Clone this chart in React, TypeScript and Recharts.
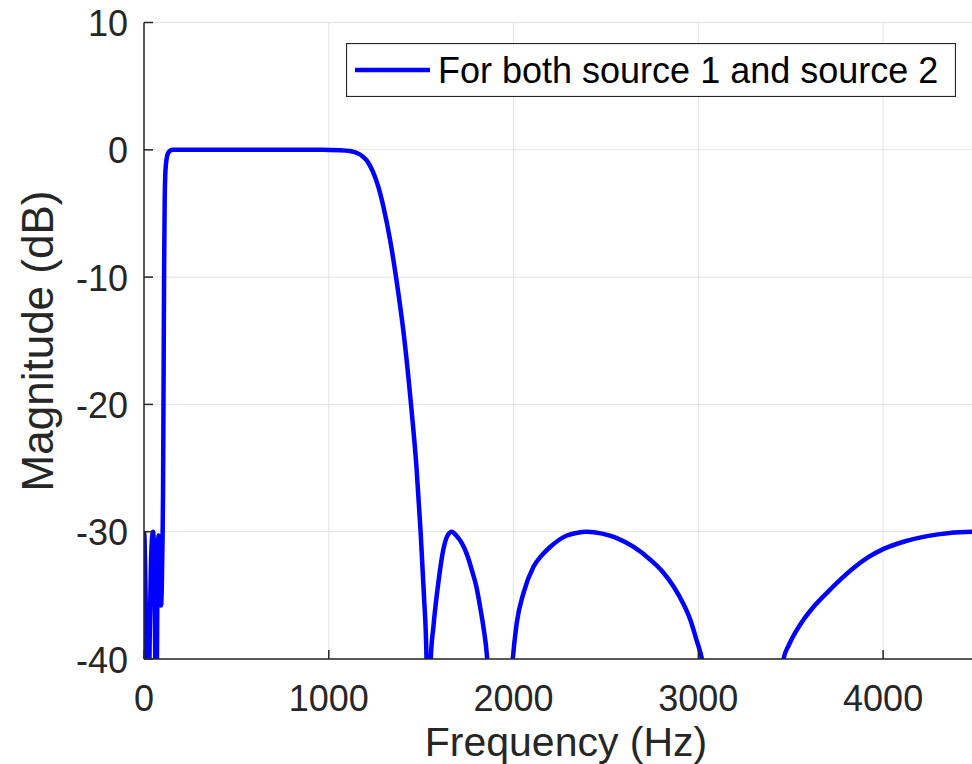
import { LineChart, Line, XAxis, YAxis, CartesianGrid, Legend } from "recharts";

// Band-pass magnitude response, shared by both sources
const FREQ_HZ = [
  0, 3, 6, 9, 12, 16, 20, 24, 28, 32, 37, 43, 49, 54, 58, 61, 64, 66, 68, 70,
  73, 76, 79, 83, 87, 92, 96, 100, 103, 106, 109, 112, 115, 119, 125, 133, 143, 155,
  200, 300, 500, 700, 900, 1000, 1060, 1115, 1160, 1180, 1206, 1225, 1241, 1270, 1296, 1332,
  1364, 1410, 1445, 1475, 1497, 1515, 1529, 1534, 1540, 1546, 1552,
  1566, 1593, 1620, 1643, 1666, 1690, 1720, 1748, 1774, 1800, 1819, 1838, 1855,
  1875, 1925, 1975, 1996, 2017, 2054, 2108, 2150, 2198, 2289, 2340, 2397, 2480,
  2559, 2650, 2740, 2810, 2866, 2920, 2956, 2990, 3019, 3060, 3240, 3420, 3461,
  3490, 3530, 3570, 3630, 3696, 3770, 3840, 3920, 4003, 4120, 4238, 4360, 4500,
];
const MAG_DB = [
  -30, -30.6, -32.5, -35.5, -40, -50, -60, -50, -42, -37, -33, -30.6, -30, -31.5, -36, -40, -50, -60, -50, -40,
  -34, -31, -30.3, -31.5, -34, -35.8, -34.5, -31, -27, -18, -9, -4, -2, -1.1, -0.5, -0.2, -0.05, 0,
  0, 0, 0, 0, 0, -0.01, -0.03, -0.1, -0.3, -0.48, -0.85, -1.3, -1.8, -3, -4.5, -7.1,
  -10, -15, -20, -25, -30, -35, -40, -55, -70, -52, -40,
  -37.5, -34, -31.4, -30.3, -30, -30.3, -30.9, -31.8, -33, -34.4, -35.9, -37.6, -39.6,
  -45, -70, -45, -40, -37.2, -34.8, -32.75, -31.9, -31.2, -30.3, -30.1, -30, -30.15,
  -30.5, -31.2, -32.2, -33.2, -34.3, -35.7, -36.9, -38.5, -40, -45, -70, -45, -40,
  -38.9, -37.8, -36.9, -35.8, -34.8, -33.75, -32.85, -32, -31.35, -30.75, -30.35, -30.1, -30,
];

const X_TICKS = [0, 1000, 2000, 3000, 4000];
const Y_TICKS = [-40, -30, -20, -10, 0, 10];
const SERIES_NAME = "For both source 1 and source 2";
const X_LABEL = "Frequency (Hz)";
const Y_LABEL = "Magnitude (dB)";

const data = FREQ_HZ.map((f, i) => ({ f, mag: MAG_DB[i] }));

const FONT = "'Liberation Sans', Arial, Helvetica, sans-serif";
const INK = "#262626";
const BLUE = "#0000ff";

const BottomTick = (props: any) => {
  const { x, y, payload } = props;
  return (
    <g>
      <line x1={x} x2={x} y1={y} y2={y - 9} stroke={INK} strokeWidth={1.5} />
      <text x={x} y={y + 52} textAnchor="middle" fontSize={36} fontFamily={FONT} fill={INK}>
        {payload.value}
      </text>
    </g>
  );
};

const TopTick = (props: any) => {
  const { x, y } = props;
  return <line x1={x} x2={x} y1={y} y2={y + 9} stroke={INK} strokeWidth={1.5} />;
};

const LeftTick = (props: any) => {
  const { x, y, payload } = props;
  return (
    <g>
      <line x1={x} x2={x + 9} y1={y} y2={y} stroke={INK} strokeWidth={1.5} />
      <text x={x - 16} y={y + 13.5} textAnchor="end" fontSize={36} fontFamily={FONT} fill={INK}>
        {payload.value}
      </text>
    </g>
  );
};

const XLabel = () => (
  <text x={566} y={756} textAnchor="middle" fontSize={41} fontFamily={FONT} fill={INK}>
    {X_LABEL}
  </text>
);

const YLabel = () => (
  <text
    x={0}
    y={0}
    transform="translate(53, 341) rotate(-90)"
    textAnchor="middle"
    fontSize={44}
    fontFamily={FONT}
    fill={INK}
  >
    {Y_LABEL}
  </text>
);

const LegendBox = () => (
  <svg width={610} height={54} style={{ display: "block" }}>
    <rect x={0.5} y={0.5} width={609} height={53} fill="#ffffff" stroke={INK} strokeWidth={1.2} />
    <line x1={9} x2={84} y1={27} y2={27} stroke={BLUE} strokeWidth={4.5} />
    <text x={92} y={40} fontSize={36} fontFamily={FONT} fill="#000000">
      {SERIES_NAME}
    </text>
  </svg>
);

export default function App() {
  return (
    <div
      style={{
        position: "absolute",
        left: 0,
        top: 0,
        width: 972,
        height: 764,
        overflow: "hidden",
        background: "#ffffff",
      }}
    >
      <LineChart
        width={980}
        height={764}
        data={data}
        margin={{ top: 22.5, right: 4.5, bottom: 0, left: 0 }}
      >
        <CartesianGrid stroke="#e3e3e3" strokeWidth={1} />
        <XAxis
          dataKey="f"
          type="number"
          domain={[0, 4500]}
          ticks={X_TICKS}
          allowDataOverflow
          height={105}
          tickSize={0}
          tickMargin={0}
          tickLine={false}
          axisLine={{ stroke: INK, strokeWidth: 1.5 }}
          tick={<BottomTick />}
          label={<XLabel />}
        />
        <XAxis
          xAxisId="top"
          orientation="top"
          dataKey="f"
          type="number"
          domain={[0, 4500]}
          ticks={X_TICKS}
          allowDataOverflow
          height={0}
          tickSize={0}
          tickMargin={0}
          tickLine={false}
          axisLine={{ stroke: INK, strokeWidth: 1.5 }}
          tick={<TopTick />}
        />
        <YAxis
          type="number"
          domain={[-40, 10]}
          ticks={Y_TICKS}
          allowDataOverflow
          width={144}
          tickSize={0}
          tickMargin={0}
          tickLine={false}
          axisLine={{ stroke: INK, strokeWidth: 1.5 }}
          tick={<LeftTick />}
          label={<YLabel />}
        />
        <Legend
          layout="horizontal"
          verticalAlign="middle"
          align="center"
          width={610}
          height={54}
          wrapperStyle={{ top: 43, left: 346, width: 610, height: 54, margin: 0, padding: 0 }}
          content={<LegendBox />}
        />
        <Line
          type="monotone"
          dataKey="mag"
          name={SERIES_NAME}
          stroke={BLUE}
          strokeWidth={4.5}
          dot={false}
          activeDot={false}
          isAnimationActive={false}
        />
      </LineChart>
    </div>
  );
}
